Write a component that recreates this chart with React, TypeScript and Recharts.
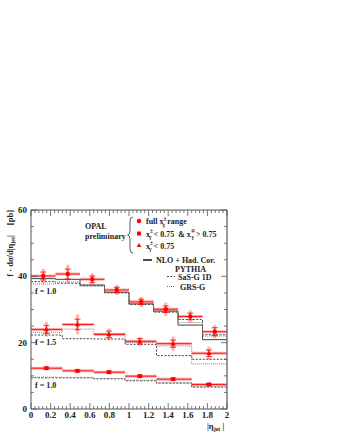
import React from 'react';
import { ComposedChart, Line, Scatter, XAxis, YAxis, ErrorBar } from 'recharts';

// ---- data ----
const topEdges = [0, 0.25, 0.5, 0.75, 1.0, 1.25, 1.5, 1.75, 2.0];
const topPointX = [0.125, 0.375, 0.625, 0.875, 1.125, 1.375, 1.625, 1.875];
const topData = [40.1, 40.7, 39.1, 35.9, 32.3, 30.1, 27.9, 23.3];
const topStat = [1.2, 1.5, 1.0, 0.8, 0.8, 1.0, 1.0, 1.2];
const topTot = [2.2, 2.8, 1.8, 1.5, 1.5, 2.0, 1.8, 2.0];
const topNLO = [39.3, 39.1, 37.4, 35.2, 31.7, 29.5, 25.3, 20.9];
const topSaS = [38.4, 37.9, 37.2, 35.0, 31.5, 29.2, 27.0, 22.4];
const topGRS = [37.7, 38.3, 37.0, 35.3, 31.8, 29.6, 26.1, 22.0];

const lowEdges = [0, 0.32, 0.64, 0.96, 1.28, 1.64, 2.0];
const lowPointX = [0.157, 0.474, 0.795, 1.11, 1.45, 1.815];

const midData = [24.0, 25.5, 22.5, 20.4, 19.7, 16.8];
const midStat = [1.2, 1.6, 1.0, 0.8, 1.1, 1.0];
const midTot = [2.2, 3.0, 1.8, 1.3, 2.2, 2.0];
const midSaS = [22.3, 21.2, 21.1, 19.5, 16.1, 15.0];
const midGRS = [23.1, 24.1, 22.8, 20.0, 19.0, 13.6];

const botData = [12.3, 11.5, 11.1, 9.9, 9.0, 7.4];
const botStat = [0.3, 0.3, 0.3, 0.3, 0.3, 0.3];
const botTot = [0.5, 0.5, 0.5, 0.4, 0.4, 0.4];
const botSaS = [9.4, 9.4, 9.1, 8.5, 7.8, 6.6];
const botGRS = [9.6, 9.5, 9.2, 8.7, 7.9, 6.8];

const xMajor = [0, 0.2, 0.4, 0.6, 0.8, 1, 1.2, 1.4, 1.6, 1.8, 2];
const yMajor = [0, 20, 40, 60];
const xTicks = Array.from({ length: 51 }, (_, k) => Math.round(k * 4) / 100);
const yTicks = Array.from({ length: 13 }, (_, k) => k * 5);

// ---- helpers ----
const stepData = (edges: number[], vals: number[]) =>
  edges.map((x, i) => ({ x, y: vals[Math.min(i, vals.length - 1)] }));
const barData = (edges: number[], vals: number[]) =>
  vals.flatMap((v, i) => [
    { x: edges[i], y: v },
    { x: edges[i + 1], y: v },
    { x: edges[i + 1], y: null },
  ]);
const pointData = (xs: number[], vals: number[], stat: number[], tot: number[]) =>
  xs.map((x, i) => ({ x, y: vals[i], stat: stat[i], tot: tot[i] }));

const RED = '#ff0000';
const PALE = 'rgba(255,0,0,0.3)';
const AX = '#555';
const FONT = '"Liberation Serif", "DejaVu Serif", serif';

const isMajor = (v: number, majors: number[]) => majors.some((m) => Math.abs(m - v) < 1e-6);

const BottomTick = (p: any) => {
  const { x, y, payload } = p;
  const major = isMajor(payload.value, xMajor);
  return (
    <g>
      <line x1={x} x2={x} y1={y} y2={y - (major ? 6 : 3)} stroke={AX} strokeWidth={0.8} />
      {major && (
        <text x={x} y={y + 3} dy="0.71em" textAnchor="middle" fontFamily={FONT} fontWeight="bold" fontSize={9} fill="#222">
          {String(payload.value)}
        </text>
      )}
    </g>
  );
};
const TopTick = (p: any) => {
  const { x, y, payload } = p;
  const major = isMajor(payload.value, xMajor);
  return <line x1={x} x2={x} y1={y} y2={y + (major ? 6 : 3)} stroke={AX} strokeWidth={0.8} />;
};
const LeftTick = (p: any) => {
  const { x, y, payload } = p;
  const major = isMajor(payload.value, yMajor);
  return (
    <g>
      <line x1={x} x2={x + (major ? 6 : 3)} y1={y} y2={y} stroke={AX} strokeWidth={0.8} />
      {major && (
        <text x={x - 4} y={y} dy="0.35em" textAnchor="end" fontFamily={FONT} fontWeight="bold" fontSize={9} fill="#222">
          {String(payload.value)}
        </text>
      )}
    </g>
  );
};
const RightTick = (p: any) => {
  const { x, y, payload } = p;
  const major = isMajor(payload.value, yMajor);
  return <line x1={x} x2={x - (major ? 6 : 3)} y1={y} y2={y} stroke={AX} strokeWidth={0.8} />;
};

const CircleMark = (p: any) => <circle cx={p.cx} cy={p.cy} r={2.2} fill={RED} />;
const SquareMark = (p: any) => <rect x={p.cx - 2} y={p.cy - 2} width={4} height={4} fill={RED} />;
const TriMark = (p: any) => (
  <path d={`M${p.cx},${p.cy - 2.6} L${p.cx + 2.5},${p.cy + 1.8} L${p.cx - 2.5},${p.cy + 1.8} Z`} fill={RED} />
);

export default function App() {
  const hist = (key: string, edges: number[], vals: number[], dash: string | undefined, color: string) => (
    <Line
      key={key}
      data={stepData(edges, vals)}
      dataKey="y"
      type="stepAfter"
      stroke={color}
      strokeWidth={1}
      strokeDasharray={dash}
      dot={false}
      activeDot={false}
      isAnimationActive={false}
    />
  );
  const bars = (key: string, edges: number[], vals: number[]) => [
    <Line key={key + 'p'} data={barData(edges, vals)} dataKey="y" type="linear" stroke={PALE} strokeWidth={3}
      dot={false} activeDot={false} isAnimationActive={false} connectNulls={false} />,
    <Line key={key + 'r'} data={barData(edges, vals)} dataKey="y" type="linear" stroke={RED} strokeWidth={0.9}
      dot={false} activeDot={false} isAnimationActive={false} connectNulls={false} />,
  ];
  const points = (key: string, data: any[], shape: any) => (
    <Scatter key={key} data={data} dataKey="y" shape={shape} fill={RED} isAnimationActive={false}>
      <ErrorBar dataKey="tot" direction="y" width={0} stroke={PALE} strokeWidth={3} />
      <ErrorBar dataKey="stat" direction="y" width={3} stroke={RED} strokeWidth={0.8} />
    </Scatter>
  );

  const sup = (s: string) => [
    <tspan key="a" dy={-3.5} fontSize={5.5}>{s}</tspan>,
    <tspan key="b" dx={-4} dy={6} fontSize={5.5}>γ</tspan>,
  ];

  return (
    <div style={{ position: 'absolute', left: 0, top: 0, width: 337, height: 436, background: '#fff' }}>
      <ComposedChart width={337} height={436} margin={{ top: 209, right: 109, bottom: 0, left: 0 }}>
        <XAxis xAxisId={0} dataKey="x" type="number" domain={[0, 2]} ticks={xTicks} interval={0} height={27}
          tickSize={0} tickMargin={0} tickLine={false} tick={(p: any) => <BottomTick {...p} />}
          axisLine={{ stroke: AX }} allowDataOverflow />
        <XAxis xAxisId="t" orientation="top" dataKey="x" type="number" domain={[0, 2]} ticks={xTicks} interval={0} height={1}
          tickSize={0} tickMargin={0} tickLine={false} tick={(p: any) => <TopTick {...p} />}
          axisLine={{ stroke: AX }} allowDataOverflow />
        <YAxis yAxisId={0} dataKey="y" type="number" domain={[0, 60]} ticks={yTicks} interval={0} width={31}
          tickSize={0} tickMargin={0} tickLine={false} tick={(p: any) => <LeftTick {...p} />}
          axisLine={{ stroke: AX }} allowDataOverflow />
        <YAxis yAxisId="r" orientation="right" dataKey="y" type="number" domain={[0, 60]} ticks={yTicks} interval={0} width={1}
          tickSize={0} tickMargin={0} tickLine={false} tick={(p: any) => <RightTick {...p} />}
          axisLine={{ stroke: '#777', strokeWidth: 1.5 }} allowDataOverflow />

        {hist('tn', topEdges, topNLO, undefined, '#444')}
        {hist('ts', topEdges, topSaS, '2 1.5', '#444')}
        {hist('tg', topEdges, topGRS, '1 1', '#888')}
        {hist('ms', lowEdges, midSaS, '2 1.5', '#444')}
        {hist('mg', lowEdges, midGRS, '1 1', '#888')}
        {hist('bs', lowEdges, botSaS, '2 1.5', '#444')}
        {hist('bg', lowEdges, botGRS, '1 1', '#888')}

        {bars('tb', topEdges, topData)}
        {bars('mb', lowEdges, midData)}
        {bars('bb', lowEdges, botData)}

        {points('tp', pointData(topPointX, topData, topStat, topTot), CircleMark)}
        {points('mp', pointData(lowPointX, midData, midStat, midTot), TriMark)}
        {points('bp', pointData(lowPointX, botData, botStat, botTot), SquareMark)}
      </ComposedChart>

      <svg width={337} height={436} style={{ position: 'absolute', left: 0, top: 0, pointerEvents: 'none' }}
        fontFamily={FONT} fontWeight="bold" fill="#222">
        {/* y-axis title */}
        <text transform="translate(13,210) rotate(-90)" textAnchor="end" fontSize={8.5}>
          f · dσ/d|η<tspan dy={2} fontSize={6}>jet</tspan><tspan dy={-2}>|</tspan>
          <tspan dx={10}>[pb]</tspan>
        </text>
        {/* x-axis title */}
        <text x={207} y={429} fontSize={8.5}>
          |η<tspan dy={2} fontSize={6}>jet</tspan><tspan dy={-2}> |</tspan>
        </text>

        {/* scale factors */}
        <text x={35} y={293.5} fontSize={8}>f = 1.0</text>
        <text x={35} y={345} fontSize={8}>f = 1.5</text>
        <text x={35} y={387.5} fontSize={8}>f = 1.0</text>

        {/* legend */}
        <text x={85} y={229} fontSize={8}>OPAL</text>
        <text x={85} y={239} fontSize={8}>preliminary</text>
        <path d="M133,217 Q130,217 130,221 L130,231 Q130,235 127.5,235 Q130,235 130,239 L130,249 Q130,253 133,253"
          fill="none" stroke="#333" strokeWidth={0.8} />
        <circle cx={139} cy={221} r={2.2} fill={RED} />
        <rect x={137} y={231.5} width={4} height={4} fill={RED} />
        <path d="M139,243 L141.3,247 L136.7,247 Z" fill={RED} />
        <text x={146} y={224} fontSize={8}>
          full x{sup('±')}<tspan dy={-2.5}> range</tspan>
        </text>
        <text x={146} y={236.5} fontSize={8}>
          x{sup('±')}<tspan dy={-2.5}>{' < 0.75'}</tspan><tspan dx={4}>{'& x'}</tspan>{sup('∓')}<tspan dy={-2.5}> &gt; 0.75</tspan>
        </text>
        <text x={146} y={248.5} fontSize={8}>
          x{sup('±')}<tspan dy={-2.5}> &lt; 0.75</tspan>
        </text>

        <line x1={143} x2={152} y1={260} y2={260} stroke="#111" strokeWidth={1.5} />
        <text x={156} y={263} fontSize={8}>NLO + Had. Cor.</text>
        <text x={175} y={272} fontSize={8}>PYTHIA</text>
        <line x1={167} x2={175} y1={276.5} y2={276.5} stroke="#444" strokeWidth={1} strokeDasharray="2 1.5" />
        <text x={178} y={279.5} fontSize={8}>SaS-G 1D</text>
        <line x1={167} x2={175} y1={286.5} y2={286.5} stroke="#666" strokeWidth={1} strokeDasharray="1 1" />
        <text x={180} y={289.5} fontSize={8}>GRS-G</text>
      </svg>
    </div>
  );
}
